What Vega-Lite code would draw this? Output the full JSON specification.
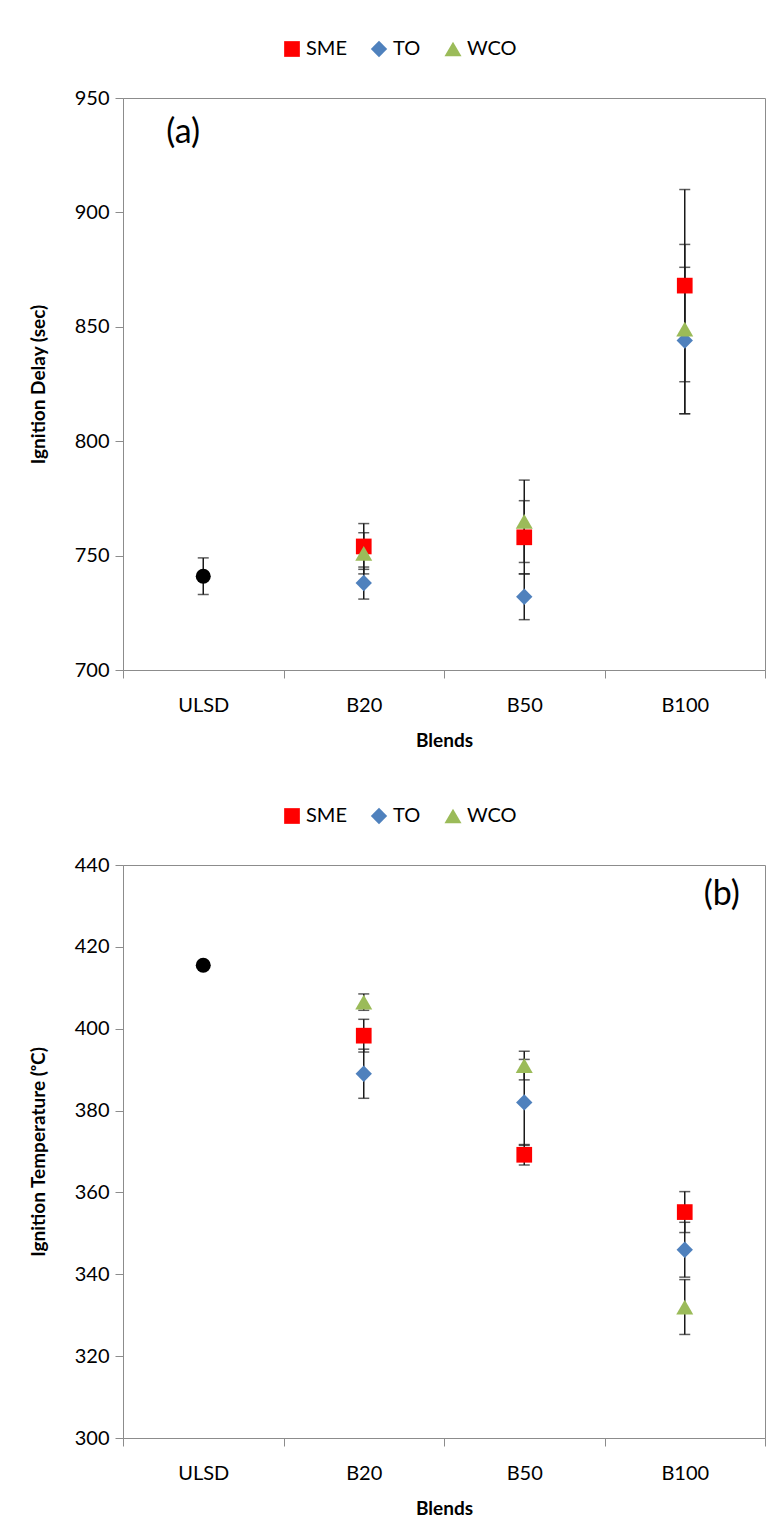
{
  "$schema": "https://vega.github.io/schema/vega-lite/v6.json",
  "background": "white",
  "padding": {"left": 28, "top": 38, "right": 4, "bottom": 4},
  "bounds": "flush",
  "spacing": 195,
  "config": {
    "font": "Lato",
    "view": {"stroke": "#8c8c8c", "strokeWidth": 1},
    "axis": {
      "grid": false,
      "domainColor": "#8c8c8c",
      "tickColor": "#8c8c8c",
      "tickSize": 8,
      "labelFont": "Lato",
      "labelFontSize": 20,
      "labelColor": "#000000",
      "titleFont": "Lato",
      "titleFontSize": 19,
      "titleFontWeight": "bold",
      "titleColor": "#000000"
    },
    "legend": {
      "labelFont": "Lato",
      "labelFontSize": 20,
      "labelColor": "#000000"
    }
  },
  "datasets": {
    "delay": [
      {"blend": "ULSD", "series": "ULSD", "value": 741, "lo": 733, "hi": 749},
      {"blend": "B20", "series": "SME", "value": 754, "lo": 744, "hi": 764},
      {"blend": "B50", "series": "SME", "value": 758, "lo": 742, "hi": 774},
      {"blend": "B100", "series": "SME", "value": 868, "lo": 826, "hi": 910},
      {"blend": "B20", "series": "TO", "value": 738, "lo": 731, "hi": 745},
      {"blend": "B50", "series": "TO", "value": 732, "lo": 722, "hi": 742},
      {"blend": "B100", "series": "TO", "value": 844, "lo": 812, "hi": 876},
      {"blend": "B20", "series": "WCO", "value": 751, "lo": 742, "hi": 760},
      {"blend": "B50", "series": "WCO", "value": 765, "lo": 747, "hi": 783},
      {"blend": "B100", "series": "WCO", "value": 849, "lo": 812, "hi": 886}
    ],
    "temp": [
      {"blend": "ULSD", "series": "ULSD", "value": 415.5, "lo": 415, "hi": 416},
      {"blend": "B20", "series": "SME", "value": 398.3, "lo": 394.3, "hi": 402.3},
      {"blend": "B50", "series": "SME", "value": 369.2, "lo": 366.7, "hi": 371.7},
      {"blend": "B100", "series": "SME", "value": 355.2, "lo": 350.2, "hi": 360.2},
      {"blend": "B20", "series": "TO", "value": 389, "lo": 383, "hi": 395},
      {"blend": "B50", "series": "TO", "value": 382, "lo": 371.5, "hi": 392.5},
      {"blend": "B100", "series": "TO", "value": 346, "lo": 339.3, "hi": 352.7},
      {"blend": "B20", "series": "WCO", "value": 406.5, "lo": 404.5, "hi": 408.5},
      {"blend": "B50", "series": "WCO", "value": 391, "lo": 387.5, "hi": 394.5},
      {"blend": "B100", "series": "WCO", "value": 332, "lo": 325.3, "hi": 338.7}
    ]
  },
  "resolve": {
    "scale": {"color": "independent", "shape": "independent", "size": "independent"},
    "legend": {"color": "independent", "shape": "independent"}
  },
  "vconcat": [
    {
      "width": 642,
      "height": 572,
      "data": {"name": "delay"},
      "encoding": {
        "x": {
          "field": "blend",
          "type": "nominal",
          "scale": {"domain": ["ULSD", "B20", "B50", "B100"]},
          "axis": {"title": "Blends", "labelAngle": 0, "tickBand": "extent", "labelPadding": 17, "titlePadding": 16}
        }
      },
      "layer": [
        {
          "mark": {"type": "rule", "color": "#1a1a1a", "strokeWidth": 1.5},
          "encoding": {
            "y": {"field": "lo", "type": "quantitative", "scale": {"domain": [700, 950], "nice": false, "zero": false},
                  "axis": {"title": "Ignition Delay (sec)", "values": [700, 750, 800, 850, 900, 950], "labelPadding": 6, "titlePadding": 26}},
            "y2": {"field": "hi"}
          }
        },
        {
          "mark": {"type": "tick", "color": "#1a1a1a", "size": 11, "thickness": 1.5},
          "encoding": {"y": {"field": "lo", "type": "quantitative"}}
        },
        {
          "mark": {"type": "tick", "color": "#1a1a1a", "size": 11, "thickness": 1.5},
          "encoding": {"y": {"field": "hi", "type": "quantitative"}}
        },
        {
          "mark": {"type": "point", "filled": true, "opacity": 1},
          "encoding": {
            "y": {"field": "value", "type": "quantitative"},
            "color": {
              "field": "series", "type": "nominal",
              "scale": {"domain": ["ULSD", "SME", "TO", "WCO"], "range": ["#000000", "#ff0000", "#4f81bd", "#9bbb59"]},
              "legend": {"title": null, "orient": "none", "legendX": 159, "legendY": -59, "direction": "horizontal", "values": ["SME", "TO", "WCO"], "symbolSize": 200, "labelOffset": 4, "columnPadding": 22, "symbolStrokeWidth": 0}
            },
            "shape": {
              "field": "series", "type": "nominal",
              "scale": {"domain": ["ULSD", "SME", "TO", "WCO"], "range": ["circle", "square", "diamond", "triangle-up"]},
              "legend": {"title": null, "orient": "none", "legendX": 159, "legendY": -59, "direction": "horizontal", "values": ["SME", "TO", "WCO"], "symbolSize": 200, "labelOffset": 4, "columnPadding": 22, "symbolStrokeWidth": 0}
            },
            "size": {
              "field": "series", "type": "nominal",
              "scale": {"domain": ["ULSD", "SME", "TO", "WCO"], "range": [225, 290, 350, 350]},
              "legend": null
            }
          }
        },
        {
          "data": {"values": [{"label": "(a)"}]},
          "mark": {"type": "text", "font": "Lato", "fontSize": 34, "dx": -20, "color": "#000000"},
          "encoding": {
            "x": {"datum": "ULSD", "type": "nominal"},
            "y": {"datum": 934.5, "type": "quantitative"},
            "text": {"field": "label"}
          }
        }
      ]
    },
    {
      "width": 642,
      "height": 573,
      "data": {"name": "temp"},
      "encoding": {
        "x": {
          "field": "blend",
          "type": "nominal",
          "scale": {"domain": ["ULSD", "B20", "B50", "B100"]},
          "axis": {"title": "Blends", "labelAngle": 0, "tickBand": "extent", "labelPadding": 17, "titlePadding": 16}
        }
      },
      "layer": [
        {
          "mark": {"type": "rule", "color": "#1a1a1a", "strokeWidth": 1.5},
          "encoding": {
            "y": {"field": "lo", "type": "quantitative", "scale": {"domain": [300, 440], "nice": false, "zero": false},
                  "axis": {"title": "Ignition Temperature (ᵒC)", "values": [300, 320, 340, 360, 380, 400, 420, 440], "labelPadding": 6, "titlePadding": 26}},
            "y2": {"field": "hi"}
          }
        },
        {
          "mark": {"type": "tick", "color": "#1a1a1a", "size": 11, "thickness": 1.5},
          "encoding": {"y": {"field": "lo", "type": "quantitative"}}
        },
        {
          "mark": {"type": "tick", "color": "#1a1a1a", "size": 11, "thickness": 1.5},
          "encoding": {"y": {"field": "hi", "type": "quantitative"}}
        },
        {
          "mark": {"type": "point", "filled": true, "opacity": 1},
          "encoding": {
            "y": {"field": "value", "type": "quantitative"},
            "color": {
              "field": "series", "type": "nominal",
              "scale": {"domain": ["ULSD", "SME", "TO", "WCO"], "range": ["#000000", "#ff0000", "#4f81bd", "#9bbb59"]},
              "legend": {"title": null, "orient": "none", "legendX": 159, "legendY": -59, "direction": "horizontal", "values": ["SME", "TO", "WCO"], "symbolSize": 200, "labelOffset": 4, "columnPadding": 22, "symbolStrokeWidth": 0}
            },
            "shape": {
              "field": "series", "type": "nominal",
              "scale": {"domain": ["ULSD", "SME", "TO", "WCO"], "range": ["circle", "square", "diamond", "triangle-up"]},
              "legend": {"title": null, "orient": "none", "legendX": 159, "legendY": -59, "direction": "horizontal", "values": ["SME", "TO", "WCO"], "symbolSize": 200, "labelOffset": 4, "columnPadding": 22, "symbolStrokeWidth": 0}
            },
            "size": {
              "field": "series", "type": "nominal",
              "scale": {"domain": ["ULSD", "SME", "TO", "WCO"], "range": [225, 290, 350, 350]},
              "legend": null
            }
          }
        },
        {
          "data": {"values": [{"label": "(b)"}]},
          "mark": {"type": "text", "font": "Lato", "fontSize": 34, "dx": 37, "color": "#000000"},
          "encoding": {
            "x": {"datum": "B100", "type": "nominal"},
            "y": {"datum": 432.7, "type": "quantitative"},
            "text": {"field": "label"}
          }
        }
      ]
    }
  ]
}
